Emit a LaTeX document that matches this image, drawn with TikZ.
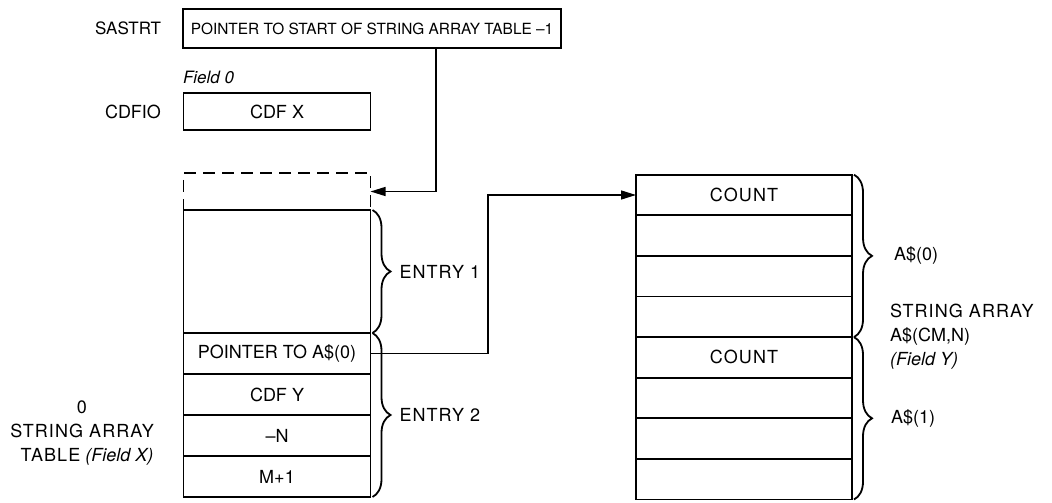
\documentclass[tikz,border=0pt]{standalone}
\usepackage{fontspec}
\setmainfont{TeX Gyre Heros}
\newfontfamily\widefont[LetterSpace=6]{TeX Gyre Heros}
\usetikzlibrary{positioning,arrows.meta,decorations.pathreplacing}

\begin{document}
\begin{tikzpicture}[x=0.5pt,y=-0.5pt,node distance=0pt,inner sep=0pt,outer sep=0pt,
  font=\fontsize{9}{10}\selectfont,
  cell/.style={draw,line width=0.9pt,minimum width=93.5pt,minimum height=20.5pt},
  slot/.style={draw,line width=0.9pt,minimum width=108pt,minimum height=20.3pt},
  tag/.style={anchor=west,align=left},
  arr/.style={line width=0.7pt,-{Triangle[length=7.5pt,width=4.5pt]}},
  brc/.style={line width=0.9pt,decorate,decoration={brace,amplitude=9pt}}]
\useasboundingbox (0,0) rectangle (1052,502);

\node[cell,minimum width=189pt,minimum height=19.5pt,font=\fontsize{7.7}{10}\selectfont] (sastrt) at (372,28.5) {POINTER TO START OF STRING ARRAY TABLE --1};
\node[anchor=east,font=\fontsize{8.5}{10}\selectfont] (sastrtlbl) at (161,28.5) {SASTRT};
\node[cell,minimum height=18.5pt] (cdfx) at (277,111.5) {CDF X};
\node[anchor=east] (cdfiolbl) at (161,111.5) {CDFIO};
\node[anchor=west,font=\fontsize{8.5}{10}\selectfont\itshape] (field0) at (183,77) {Field 0};

\node[cell,dash pattern=on 6pt off 3.5pt,minimum height=18.5pt] (free) at (277,191.5) {};
\node[cell,minimum height=61.5pt] (entry1) [below = of free] {};
\node[cell] (ptr) [below = of entry1] {POINTER TO A\$(0)};
\node[cell] (cdfy) [below = of ptr] {CDF Y};
\node[cell] (negn) [below = of cdfy] {--N};
\node[cell] (mone) [below = of negn] {M+1};
\node[align=center,font=\fontsize{9}{12}\selectfont] (tablelbl) at (82,433) {0\\{\widefont STRING ARRAY}\\ \ \ {\widefont TABLE} \textit{(Field X)}};

\node[slot] (count1) at (744,195) {{\widefont COUNT}};
\node[slot] (s2) [below = of count1] {};
\node[slot] (s3) [below = of s2] {};
\node[slot] (s4) [below = of s3] {};
\node[slot] (count2) [below = of s4] {{\widefont COUNT}};
\node[slot] (s6) [below = of count2] {};
\node[slot] (s7) [below = of s6] {};
\node[slot] (s8) [below = of s7] {};

\coordinate (tap) at (436,0);
\coordinate (bend) at (488,0);
\draw[arr] (sastrt.south -| tap) |- (free.east);
\draw[arr] (ptr.east) -- (ptr.east -| bend) |- (count1.west);

\draw[brc] ([xshift=1pt]entry1.north east) -- ([xshift=1pt]entry1.south east) node[midway,right=13.5pt] (e1lbl) {\widefont ENTRY 1};
\draw[brc] ([xshift=1pt]ptr.north east) -- ([xshift=1pt]mone.south east) node[midway,right=13.5pt] (e2lbl) {\widefont ENTRY 2};
\draw[brc] ([xshift=1pt]count1.north east) -- ([xshift=1pt]s4.south east) node[midway,right=20pt] (a0lbl) {A\$(0)};
\draw[brc] ([xshift=1pt]count2.north east) -- ([xshift=1pt]s8.south east) node[midway,right=18.5pt] (a1lbl) {A\$(1)};
\node[tag,font=\fontsize{9}{12}\selectfont] (arraylbl) at (890,337) {{\widefont STRING ARRAY}\\A\$(CM,N)\\\textit{(Field Y)}};
\end{tikzpicture}
\end{document}
